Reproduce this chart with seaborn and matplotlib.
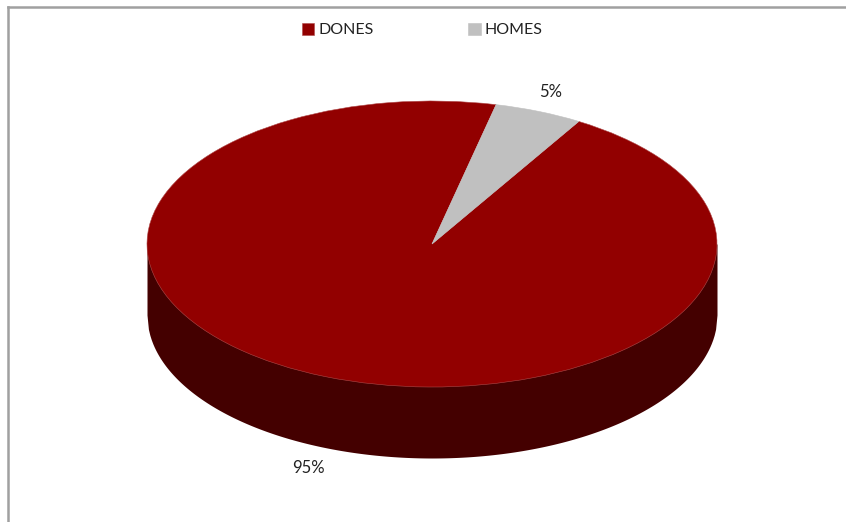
import numpy as np
import seaborn as sns
import matplotlib.pyplot as plt

# donnees du graphique
categories = ["DONES", "HOMES"]
valeurs = [95, 5]
couleurs = ["#920000", "#C0C0C0"]
couleur_cote = "#440000"

sns.set_theme(style="white")
plt.rcParams['font.family'] = ['Lato', 'DejaVu Sans']

W, H = 846, 522
fig = plt.figure(figsize=(W / 100, H / 100), dpi=100)
ax = fig.add_axes([8 / W, 0, (W - 8) / W, (H - 7) / H])

# ellipse du dessus en pixels : centre, rayons, epaisseur du disque
cx, cy, rx, ry, ep = 432, 244, 285, 143, 71
prof = ep / ry

# cote du disque
x = np.linspace(-1, 1, 400)
bas = -np.sqrt(1 - x ** 2) - prof
ax.fill_between(x, bas, 0, color=couleur_cote, lw=0)

# dessus du disque
wedges, _ = ax.pie(valeurs, colors=couleurs, startangle=77, radius=1,
                   frame=True, wedgeprops={'lw': 0.4, 'edgecolor': '#B04A4A'})
wedges[1].set_edgecolor(couleurs[1])
ax.set_aspect('auto')
ax.set_xlim((8 - cx) / rx, (W - cx) / rx)
ax.set_ylim((cy - H) / ry, (cy - 7) / ry)
ax.set_xticks([])
ax.set_yticks([])

# cadre gris en haut et a gauche
for s in ['right', 'bottom']:
    ax.spines[s].set_visible(False)
for s in ['left', 'top']:
    ax.spines[s].set_color('#A0A0A0')
    ax.spines[s].set_linewidth(1.8)

# etiquettes en pourcentage
total = sum(valeurs)
ax.text((308 - cx) / rx, (cy - 468) / ry, f"{valeurs[0] / total:.0%}",
        ha='center', va='center', fontsize=12, color='#222222')
ax.text((551 - cx) / rx, (cy - 92) / ry, f"{valeurs[1] / total:.0%}",
        ha='center', va='center', fontsize=12, color='#222222')

fig.legend(wedges, categories, ncol=2, frameon=False, fontsize=11.5,
           loc='center', bbox_to_anchor=(422 / W, 1 - 30 / H),
           handlelength=0.8, handleheight=0.8, handletextpad=0.25,
           columnspacing=5.9, labelcolor='#222222', borderpad=0)

plt.savefig('out.png', dpi=100)
